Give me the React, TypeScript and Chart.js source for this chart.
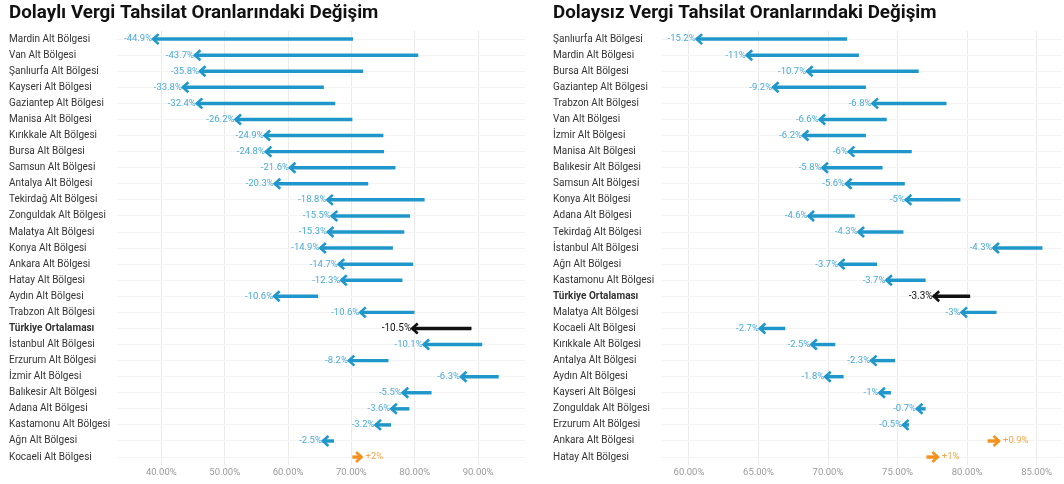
import React, { useEffect, useRef } from 'react';
import { Chart, registerables } from 'chart.js';

Chart.register(...registerables);

const FONT = 'Roboto, "Noto Sans", sans-serif';
const AVG = 'Türkiye Ortalaması';

// ---- Left panel: Dolaylı (indirect) ----
const leftTitle = 'Dolaylı Vergi Tahsilat Oranlarındaki Değişim';
const leftRegions = [
  'Mardin Alt Bölgesi', 'Van Alt Bölgesi', 'Şanlıurfa Alt Bölgesi', 'Kayseri Alt Bölgesi',
  'Gaziantep Alt Bölgesi', 'Manisa Alt Bölgesi', 'Kırıkkale Alt Bölgesi', 'Bursa Alt Bölgesi',
  'Samsun Alt Bölgesi', 'Antalya Alt Bölgesi', 'Tekirdağ Alt Bölgesi', 'Zonguldak Alt Bölgesi',
  'Malatya Alt Bölgesi', 'Konya Alt Bölgesi', 'Ankara Alt Bölgesi', 'Hatay Alt Bölgesi',
  'Aydın Alt Bölgesi', 'Trabzon Alt Bölgesi', 'Türkiye Ortalaması', 'İstanbul Alt Bölgesi',
  'Erzurum Alt Bölgesi', 'İzmir Alt Bölgesi', 'Balıkesir Alt Bölgesi', 'Adana Alt Bölgesi',
  'Kastamonu Alt Bölgesi', 'Ağrı Alt Bölgesi', 'Kocaeli Alt Bölgesi',
];
const leftStart = [
  70.2, 80.5, 71.8, 65.6, 67.4, 70.1, 75.0, 75.1, 76.9, 72.6, 81.5, 79.2, 78.3, 76.5,
  79.7, 78.0, 64.7, 79.9, 88.9, 90.6, 75.8, 93.2, 82.6, 79.1, 76.2, 67.2, 70.2,
];
const leftEnd = [
  38.7, 45.3, 46.1, 43.4, 45.6, 51.7, 56.3, 56.5, 60.3, 57.9, 66.2, 66.9, 66.3, 65.1,
  68.0, 68.4, 57.8, 71.4, 79.6, 81.4, 69.6, 87.3, 78.1, 76.3, 73.8, 65.5, 71.6,
];
const leftChange = [
  '-44.9%', '-43.7%', '-35.8%', '-33.8%', '-32.4%', '-26.2%', '-24.9%', '-24.8%', '-21.6%',
  '-20.3%', '-18.8%', '-15.5%', '-15.3%', '-14.9%', '-14.7%', '-12.3%', '-10.6%', '-10.6%',
  '-10.5%', '-10.1%', '-8.2%', '-6.3%', '-5.5%', '-3.6%', '-3.2%', '-2.5%', '+2%',
];
const leftTicks = [40, 50, 60, 70, 80, 90];

// ---- Right panel: Dolaysız (direct) ----
const rightTitle = 'Dolaysız Vergi Tahsilat Oranlarındaki Değişim';
const rightRegions = [
  'Şanlıurfa Alt Bölgesi', 'Mardin Alt Bölgesi', 'Bursa Alt Bölgesi', 'Gaziantep Alt Bölgesi',
  'Trabzon Alt Bölgesi', 'Van Alt Bölgesi', 'İzmir Alt Bölgesi', 'Manisa Alt Bölgesi',
  'Balıkesir Alt Bölgesi', 'Samsun Alt Bölgesi', 'Konya Alt Bölgesi', 'Adana Alt Bölgesi',
  'Tekirdağ Alt Bölgesi', 'İstanbul Alt Bölgesi', 'Ağrı Alt Bölgesi', 'Kastamonu Alt Bölgesi',
  'Türkiye Ortalaması', 'Malatya Alt Bölgesi', 'Kocaeli Alt Bölgesi', 'Kırıkkale Alt Bölgesi',
  'Antalya Alt Bölgesi', 'Aydın Alt Bölgesi', 'Kayseri Alt Bölgesi', 'Zonguldak Alt Bölgesi',
  'Erzurum Alt Bölgesi', 'Ankara Alt Bölgesi', 'Hatay Alt Bölgesi',
];
const rightStart = [
  71.35, 72.2, 76.5, 72.7, 78.5, 74.2, 72.7, 76.0, 73.9, 75.5, 79.5, 71.9, 75.4, 85.4,
  73.5, 77.0, 80.2, 82.1, 66.9, 70.5, 74.8, 71.1, 74.5, 77.0, 75.8, 81.5, 77.1,
];
const rightEnd = [
  60.55, 64.15, 68.5, 66.05, 73.2, 69.4, 68.2, 71.5, 69.6, 71.3, 75.6, 68.6, 72.2, 81.9,
  70.8, 74.2, 77.6, 79.6, 65.1, 68.8, 73.1, 69.8, 73.7, 76.4, 75.4, 82.3, 77.9,
];
const rightChange = [
  '-15.2%', '-11%', '-10.7%', '-9.2%', '-6.8%', '-6.6%', '-6.2%', '-6%', '-5.8%', '-5.6%',
  '-5%', '-4.6%', '-4.3%', '-4.3%', '-3.7%', '-3.7%', '-3.3%', '-3%', '-2.7%', '-2.5%',
  '-2.3%', '-1.8%', '-1%', '-0.7%', '-0.5%', '+0.9%', '+1%',
];
const rightTicks = [60, 65, 70, 75, 80, 85];

const BLUE = '#1f97cb';
const BLUE_LABEL = '#4aaad8';
const ORANGE = '#f5911e';
const ORANGE_LABEL = '#f6a64a';
const BLACK = '#111111';

const arrowPlugin = {
  id: 'arrows',
  afterDatasetsDraw(chart: any, _args: any, opts: any) {
    const { ctx } = chart;
    const xs = chart.scales.x;
    const ys = chart.scales.y;
    const ds = chart.data.datasets[0];
    ds.data.forEach((d: number[], i: number) => {
      const [s, e] = d;
      const yp = ys.getPixelForValue(i);
      const x0 = xs.getPixelForValue(s);
      const x1 = xs.getPixelForValue(e);
      const dir = x1 < x0 ? -1 : 1;
      const isAvg = opts.names[i] === AVG;
      const col = isAvg ? BLACK : dir > 0 ? ORANGE : BLUE;
      const lcol = isAvg ? BLACK : dir > 0 ? ORANGE_LABEL : BLUE_LABEL;
      ctx.save();
      ctx.strokeStyle = col;
      ctx.lineWidth = 2.6;
      ctx.lineJoin = 'miter';
      ctx.lineCap = 'butt';
      ctx.beginPath();
      ctx.moveTo(x1 - dir * 5.5, yp - 5);
      ctx.lineTo(x1, yp);
      ctx.lineTo(x1 - dir * 5.5, yp + 5);
      ctx.stroke();
      ctx.fillStyle = lcol;
      ctx.font = (isAvg ? '10px ' : '9.5px ') + FONT;
      ctx.textBaseline = 'middle';
      if (dir < 0) {
        ctx.textAlign = 'right';
        ctx.fillText(opts.labels[i], x1 - 1, yp);
      } else {
        ctx.textAlign = 'left';
        ctx.fillText(opts.labels[i], x1 + 4, yp);
      }
      ctx.restore();
    });
  },
};

function makeConfig(p: {
  title: string; names: string[]; start: number[]; end: number[]; labels: string[];
  ticks: number[]; min: number; max: number; axisWidth: number; padLeft: number; padRight: number;
}) {
  const colors = p.names.map((n, i) =>
    n === AVG ? BLACK : p.end[i] > p.start[i] ? ORANGE : BLUE);
  return {
    type: 'bar',
    data: {
      labels: p.names,
      datasets: [{
        data: p.start.map((s, i) => [s, p.end[i]]),
        backgroundColor: colors,
        borderWidth: 0,
        barThickness: 2.8,
      }],
    },
    options: {
      indexAxis: 'y',
      responsive: false,
      animation: false,
      devicePixelRatio: 1,
      layout: { padding: { left: p.padLeft, right: p.padRight, top: 0, bottom: 3.5 } },
      plugins: {
        legend: { display: false },
        tooltip: { enabled: false },
        title: {
          display: true,
          text: p.title,
          align: 'start',
          color: '#111',
          font: { family: FONT, size: 18.8, weight: 'bold' },
          padding: { top: 2, bottom: 6.5 },
        },
        arrows: { labels: p.labels, names: p.names },
      },
      scales: {
        x: {
          type: 'linear',
          min: p.min,
          max: p.max,
          afterBuildTicks: (scale: any) => { scale.ticks = p.ticks.map((v) => ({ value: v })); },
          grid: { color: '#ebebeb', drawTicks: false, lineWidth: 1 },
          border: { display: false },
          ticks: {
            color: '#9a9a9a',
            padding: 2,
            font: { family: FONT, size: 9.5 },
            callback: (v: number) => Number(v).toFixed(2) + '%',
          },
        },
        y: {
          type: 'category',
          grid: { color: '#f3f3f3', drawTicks: false, offset: false },
          border: { display: false },
          afterFit: (scale: any) => { scale.width = p.axisWidth; },
          ticks: {
            crossAlign: 'far',
            color: '#333',
            autoSkip: false,
            font: (c: any) => ({
              family: FONT,
              size: 10,
              weight: p.names[c.index] === AVG ? 'bold' : 'normal',
            }),
          },
        },
      },
    },
    plugins: [arrowPlugin],
  };
}

function Panel(props: { cfg: any; width: number }) {
  const ref = useRef<HTMLCanvasElement | null>(null);
  useEffect(() => {
    if (!ref.current) return;
    const chart = new Chart(ref.current, props.cfg);
    return () => chart.destroy();
  }, []);
  return <canvas ref={ref} width={props.width} height={484} style={{ display: 'block' }} />;
}

export default function App() {
  const leftCfg = makeConfig({
    title: leftTitle, names: leftRegions, start: leftStart, end: leftEnd, labels: leftChange,
    ticks: leftTicks, min: 33.0, max: 97.4, axisWidth: 108, padLeft: 9, padRight: 5,
  });
  const rightCfg = makeConfig({
    title: rightTitle, names: rightRegions, start: rightStart, end: rightEnd, labels: rightChange,
    ticks: rightTicks, min: 58.06, max: 86.83, axisWidth: 109, padLeft: 23, padRight: 2,
  });
  return (
    <div style={{ position: 'fixed', left: 0, top: 0, width: 1064, height: 484, background: '#fff', display: 'flex' }}>
      <Panel cfg={leftCfg} width={530} />
      <Panel cfg={rightCfg} width={534} />
    </div>
  );
}
